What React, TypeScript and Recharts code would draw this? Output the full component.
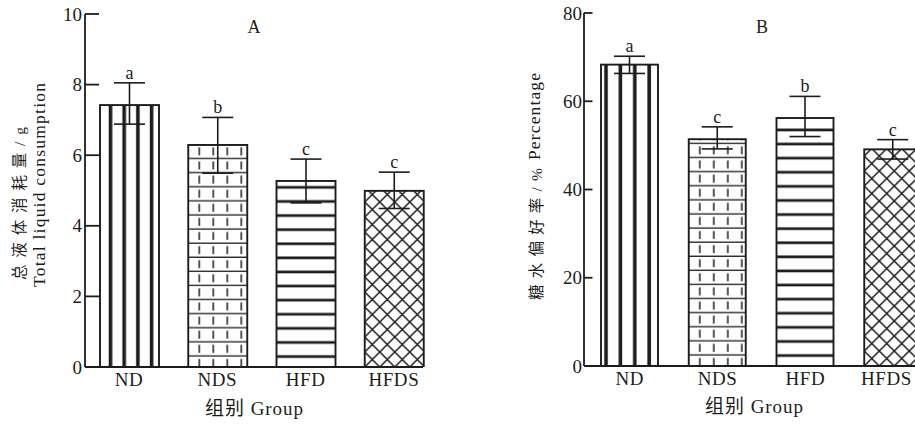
import React from "react";
import { BarChart, Bar, XAxis, YAxis, ErrorBar } from "recharts";

const INK = "#1c1c1c";
const SERIF = "'Liberation Serif', 'Noto Sans CJK SC', serif";

const GROUPS = ["ND", "NDS", "HFD", "HFDS"];
const PATTERNS = ["vstripe", "brick", "hstripe", "cross"];

// panel A: total liquid consumption (g)
const TOTAL_MEAN = [7.42, 6.29, 5.27, 4.99];
const TOTAL_ERR_LOW = [0.54, 0.8, 0.62, 0.5];
const TOTAL_ERR_HIGH = [0.63, 0.78, 0.62, 0.53];
const TOTAL_LETTERS = ["a", "b", "c", "c"];
const TOTAL_TICKS = [0, 2, 4, 6, 8, 10];

// panel B: sucrose preference (%)
const PREF_MEAN = [68.3, 51.4, 56.2, 49.1];
const PREF_ERR_LOW = [2.0, 2.2, 4.2, 2.2];
const PREF_ERR_HIGH = [1.9, 2.8, 4.9, 2.2];
const PREF_LETTERS = ["a", "c", "b", "c"];
const PREF_TICKS = [0, 20, 40, 60, 80];

const rows = (mean: number[], lo: number[], hi: number[], letters: string[]) =>
  GROUPS.map((g, i) => ({ group: g, value: mean[i], err: [lo[i], hi[i]], letter: letters[i] }));

const dataA = rows(TOTAL_MEAN, TOTAL_ERR_LOW, TOTAL_ERR_HIGH, TOTAL_LETTERS);
const dataB = rows(PREF_MEAN, PREF_ERR_LOW, PREF_ERR_HIGH, PREF_LETTERS);

function makeShape(panel: string, vPhase: number, vStep: number) {
  return (props: any) => {
    const { x, y, width, height, index, payload } = props;
    const kind = PATTERNS[index];
    const id = `pat-${panel}-${kind}`;
    const bottom = y + height;
    let pattern: React.ReactNode = null;
    if (kind === "vstripe") {
      pattern = (
        <pattern id={id} patternUnits="userSpaceOnUse" x={x} y={0} width={vStep} height={20}>
          <rect x={vPhase - 1.8} y={0} width={3.6} height={20} fill={INK} />
        </pattern>
      );
    } else if (kind === "brick") {
      pattern = (
        <pattern id={id} patternUnits="userSpaceOnUse" x={x} y={bottom} width={14} height={14.1}>
          <rect x={0} y={2.4} width={14} height={1.3} fill={INK} />
          <rect x={10.3} y={6} width={1.5} height={8} fill={INK} />
        </pattern>
      );
    } else if (kind === "hstripe") {
      pattern = (
        <pattern id={id} patternUnits="userSpaceOnUse" x={x} y={bottom} width={10} height={14.1}>
          <rect x={0} y={2.3} width={10} height={2.7} fill={INK} />
        </pattern>
      );
    } else {
      pattern = (
        <pattern id={id} patternUnits="userSpaceOnUse" x={x} y={bottom} width={15} height={15}>
          <path d="M0 0L15 15M15 0L0 15" stroke={INK} strokeWidth={1.5} strokeLinecap="square" />
        </pattern>
      );
    }
    const ppu = height / payload.value;
    const top = y - payload.err[1] * ppu;
    return (
      <g>
        <defs>{pattern}</defs>
        <rect x={x} y={y} width={width} height={height} fill="#fff" />
        <rect x={x} y={y} width={width} height={height} fill={`url(#${id})`} stroke={INK} strokeWidth={1.9} />
        <text x={x + width / 2} y={top - 4} textAnchor="middle" fontSize={18} fontFamily={SERIF} fill={INK}>
          {payload.letter}
        </text>
      </g>
    );
  };
}

function makeYTick(len: number, gap: number) {
  return (p: any) => {
    const { x, y, payload } = p;
    return (
      <g>
        {payload.value !== 0 && <line x1={x} x2={x + len} y1={y} y2={y} stroke={INK} strokeWidth={1.8} />}
        <text x={x - gap} y={y} dy={6.5} textAnchor="end" fontSize={19} fontFamily={SERIF} fill={INK}>
          {payload.value}
        </text>
      </g>
    );
  };
}

function makeXTick(limit: number) {
  return (p: any) => {
    // keep the last label inside the picture's right edge
    const right = p.x + 25 > limit;
    return (
      <text
        x={right ? limit : p.x}
        y={p.y + 19}
        textAnchor={right ? "end" : "middle"}
        fontSize={19}
        fontFamily={SERIF}
        fill={INK}
        letterSpacing={0.6}
      >
        {p.payload.value}
      </text>
    );
  };
}

function Panel({
  data, ticks, max, margin, padding, barSize, tickLen, tickGap, panel, vPhase, vStep, limit,
}: any) {
  return (
    <BarChart width={470} height={425} data={data} margin={margin}>
      <XAxis
        dataKey="group"
        height={30}
        padding={padding}
        tickSize={0}
        tickMargin={0}
        tickLine={false}
        axisLine={{ stroke: INK, strokeWidth: 1.8 }}
        tick={makeXTick(limit)}
        interval={0}
      />
      <YAxis
        width={40}
        domain={[0, max]}
        ticks={ticks}
        allowDataOverflow
        tickSize={0}
        tickMargin={0}
        tickLine={false}
        axisLine={{ stroke: INK, strokeWidth: 1.8 }}
        tick={makeYTick(tickLen, tickGap)}
        interval={0}
      />
      <Bar dataKey="value" barSize={barSize} isAnimationActive={false} shape={makeShape(panel, vPhase, vStep)}>
        <ErrorBar dataKey="err" direction="y" width={15.5} stroke={INK} strokeWidth={1.6} isAnimationActive={false} />
      </Bar>
    </BarChart>
  );
}

export default function App() {
  return (
    <div style={{ position: "fixed", left: 0, top: 0, width: 915, height: 425, overflow: "hidden", background: "#fff" }}>
      <div style={{ position: "absolute", left: 0, top: 0 }}>
        <Panel
          data={dataA}
          ticks={TOTAL_TICKS}
          max={10}
          margin={{ top: 14, right: 47, bottom: 28, left: 45 }}
          padding={{ left: 0, right: -15 }}
          barSize={59}
          tickLen={14}
          tickGap={3}
          panel="A"
          vPhase={10.5}
          vStep={13.7}
          limit={9999}
        />
      </div>
      <div style={{ position: "absolute", left: 470, top: 0 }}>
        <Panel
          data={dataB}
          ticks={PREF_TICKS}
          max={80}
          margin={{ top: 13, right: 3, bottom: 29, left: 74 }}
          padding={{ left: 2, right: 0 }}
          barSize={57}
          tickLen={8.5}
          tickGap={2}
          panel="B"
          vPhase={5}
          vStep={14.4}
          limit={442}
        />
      </div>
      <svg width={915} height={425} style={{ position: "absolute", left: 0, top: 0, pointerEvents: "none" }}>
        <g fontFamily={SERIF} fill={INK}>
          <text x={254} y={33} textAnchor="middle" fontSize={18}>A</text>
          <text x={762} y={33} textAnchor="middle" fontSize={18}>B</text>
          <text x={254} y={415} textAnchor="middle" fontSize={19} textLength={98} lengthAdjust="spacing">组别 Group</text>
          <text x={754} y={413} textAnchor="middle" fontSize={19} textLength={98} lengthAdjust="spacing">组别 Group</text>
          <text transform="translate(24.5,203.5) rotate(-90)" textAnchor="middle" fontSize={15.5} textLength={153} lengthAdjust="spacing">总液体消耗量/g</text>
          <text transform="translate(45,185) rotate(-90)" textAnchor="middle" fontSize={17.5} textLength={204} lengthAdjust="spacing">Total liquid consumption</text>
          <text transform="translate(541.5,234) rotate(-90)" textAnchor="middle" fontSize={15.5} textLength={132} lengthAdjust="spacing">糖水偏好率/%</text>
          <text transform="translate(540,116.5) rotate(-90)" textAnchor="middle" fontSize={17.5} textLength={87} lengthAdjust="spacing">Percentage</text>
        </g>
      </svg>
    </div>
  );
}
